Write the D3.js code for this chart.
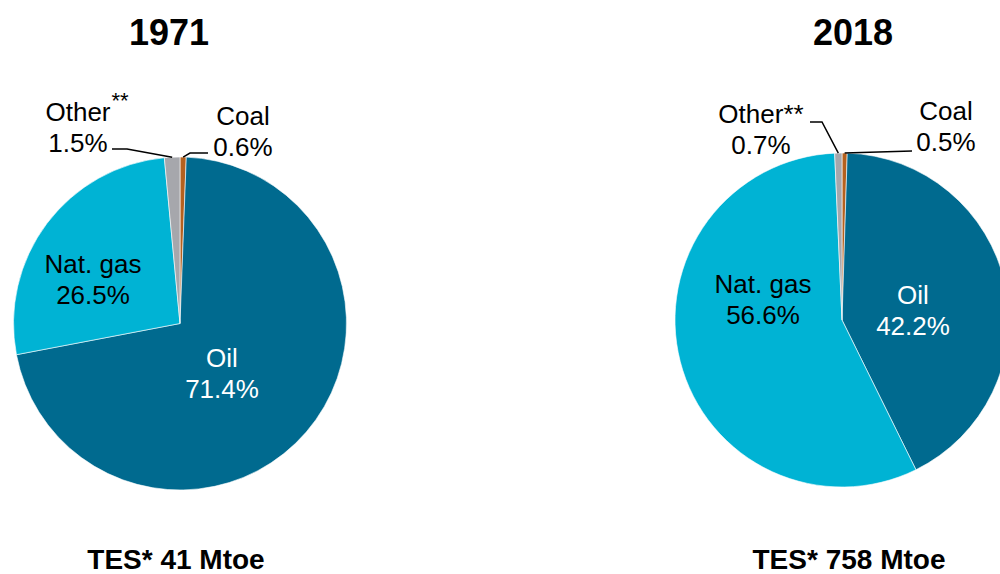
<!DOCTYPE html>
<html>
<head>
<meta charset="utf-8">
<script src="https://cdn.jsdelivr.net/npm/d3@7"></script>
<style>
  body { margin: 0; background: #fff; }
  svg { display: block; font-family: "Liberation Sans", Arial, sans-serif; }
</style>
</head>
<body>
<svg class="chart" width="1000" height="574"></svg>
<script>
  // data
  var categories = ["Coal", "Oil", "Nat. gas", "Other"];
  var values1971 = [0.6, 71.4, 26.5, 1.5];
  var values2018 = [0.5, 42.2, 56.6, 0.7];
  var years = ["1971", "2018"];
  var totals = ["TES* 41 Mtoe", "TES* 758 Mtoe"];

  var colors = {"Coal": "#B4611F", "Oil": "#006A8F", "Nat. gas": "#00B3D4", "Other": "#A6A7AC"};

  // layout for each pie
  var pies = [
    {
      values: values1971, cx: 180, cy: 323.5, r: 166.5, title: years[0], titleX: 169, total: totals[0], totalX: 176,
      labels: {
        "Oil": {x: 222, y: 367, fill: "#fff"},
        "Nat. gas": {x: 93, y: 273, fill: "#000"},
        "Other": {x: 78, y: 121, fill: "#000", name: "Other", star: true},
        "Coal": {x: 243, y: 125, fill: "#000"}
      },
      leaders: {
        "Other": [[112, 149], [127, 149]],
        "Coal": [[208, 153], [190, 153]]
      }
    },
    {
      values: values2018, cx: 842, cy: 320, r: 167, title: years[1], titleX: 853, total: totals[1], totalX: 849,
      labels: {
        "Oil": {x: 913, y: 304, fill: "#fff"},
        "Nat. gas": {x: 763, y: 293, fill: "#000"},
        "Other": {x: 761, y: 123, fill: "#000", name: "Other**"},
        "Coal": {x: 946, y: 120, fill: "#000"}
      },
      leaders: {
        "Other": [[810, 122], [822, 122]],
        "Coal": [[912, 151]]
      }
    }
  ];

  var svg = d3.select(".chart");

  var pie = d3.pie().sort(null).value(function(d) { return d.value; });

  pies.forEach(function(p) {
    var data = categories.map(function(c, i) { return {name: c, value: p.values[i]}; });
    var arcs = pie(data);
    var arc = d3.arc().innerRadius(0).outerRadius(p.r);

    var g = svg.append("g").attr("transform", "translate(" + p.cx + "," + p.cy + ")");

    g.selectAll("path")
      .data(arcs)
      .enter().append("path")
        .attr("d", arc)
        .attr("fill", function(d) { return colors[d.data.name]; })
        .attr("stroke", "#fff")
        .attr("stroke-width", 0.6);

    // leader lines for small slices
    arcs.forEach(function(d) {
      var pts = p.leaders[d.data.name];
      if (!pts) return;
      var mid = (d.startAngle + d.endAngle) / 2;
      var edge = [p.cx + Math.sin(mid) * p.r, p.cy - Math.cos(mid) * p.r];
      svg.append("path")
        .attr("d", d3.line()(pts.concat([edge])))
        .attr("fill", "none")
        .attr("stroke", "#000")
        .attr("stroke-width", 1.5);
    });

    // slice labels
    arcs.forEach(function(d) {
      var l = p.labels[d.data.name];
      var t = svg.append("text")
        .attr("x", l.x)
        .attr("y", l.y)
        .attr("text-anchor", "middle")
        .attr("font-size", 26)
        .attr("fill", l.fill);
      var first = t.append("tspan").attr("x", l.x).text(l.name || d.data.name);
      t.append("tspan").attr("x", l.x).attr("dy", 31).text(d3.format(".1f")(d.data.value) + "%");
      if (l.star) {
        var w = first.node().getComputedTextLength();
        svg.append("text")
          .attr("x", l.x + w / 2 + 1)
          .attr("y", l.y - 13)
          .attr("font-size", 22)
          .text("**");
      }
    });

    svg.append("text")
      .attr("x", p.titleX)
      .attr("y", 45)
      .attr("text-anchor", "middle")
      .attr("font-size", 36)
      .attr("font-weight", "bold")
      .text(p.title);

    svg.append("text")
      .attr("x", p.totalX)
      .attr("y", 569)
      .attr("text-anchor", "middle")
      .attr("font-size", 28)
      .attr("font-weight", "bold")
      .text(p.total);
  });
</script>
</body>
</html>
